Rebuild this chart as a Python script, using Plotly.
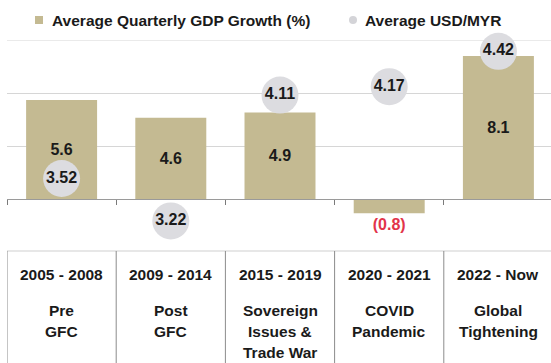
import plotly.graph_objects as go

# ---- data ----
periods = ["2005 - 2008", "2009 - 2014", "2015 - 2019", "2020 - 2021", "2022 - Now"]
descriptions = ["Pre\nGFC", "Post\nGFC", "Sovereign\nIssues &\nTrade War", "COVID\nPandemic", "Global\nTightening"]
gdp_growth = [5.6, 4.6, 4.9, -0.8, 8.1]
usd_myr = [3.52, 3.22, 4.11, 4.17, 4.42]
legend_names = ["Average Quarterly GDP Growth (%)", "Average USD/MYR"]

# ---- styles ----
W, H = 551, 363
ML, MR, MT, MB = 7, 0, 40, 111
PW, PH = W - ML - MR, H - MT - MB
BAR_COLOR = "#c4ba92"
DOT_COLOR = "#dcdce0"
TXT = "#1a1a1a"
RED = "#e2344a"
FONT = "Liberation Sans, Arial, sans-serif"
Y1 = [-3, 9]
Y2 = [3.0, 4.5]
GRID = "#d6d6d6"

def px_x(p):
    return (p - ML) / PW

def px_y(p):
    return (MT + PH - p) / PH

bar_text = [f"({abs(v):.1f})" if v < 0 else f"{v:.1f}" for v in gdp_growth]
bar_pos = ["outside" if v < 0 else "inside" for v in gdp_growth]
bar_tcol = [RED if v < 0 else TXT for v in gdp_growth]

fig = go.Figure()
fig.add_trace(go.Bar(
    x=periods, y=gdp_growth, name=legend_names[0], width=0.65,
    marker=dict(color=BAR_COLOR, line=dict(width=0)),
    text=bar_text, textposition=bar_pos, insidetextanchor="middle",
    textfont=dict(family=FONT, size=16, color=bar_tcol, weight="bold"),
    constraintext="none", cliponaxis=False, showlegend=False, yaxis="y",
))
fig.add_trace(go.Scatter(
    x=periods, y=usd_myr, name=legend_names[1], mode="markers+text",
    marker=dict(size=37, color=DOT_COLOR, line=dict(width=0)),
    text=[f"{v:.2f}" for v in usd_myr], textposition="middle center",
    textfont=dict(family=FONT, size=16, color=TXT, weight="bold"),
    cliponaxis=False, showlegend=False, yaxis="y2",
))

shapes = []
annotations = []

# top gridline (at the upper edge of the value range)
shapes.append(dict(type="line", xref="paper", yref="y", x0=0, x1=1, y0=Y1[1], y1=Y1[1],
                   line=dict(color=GRID, width=1), layer="below"))

# table
n = len(periods)
bounds = [i - 0.5 for i in range(n + 1)]
shapes.append(dict(type="line", xref="paper", yref="paper", x0=0, x1=1,
                   y0=px_y(251), y1=px_y(251), line=dict(color="#cfcfcf", width=1.2)))
for b in bounds:
    shapes.append(dict(type="line", xref="x", yref="paper", x0=b, x1=b,
                       y0=px_y(251), y1=px_y(H + 5), line=dict(color="#8c8c8c", width=1)))
for per, desc in zip(periods, descriptions):
    annotations.append(dict(x=per, xref="x", y=px_y(274), yref="paper", text=per,
                            showarrow=False, xanchor="center", yanchor="middle",
                            font=dict(family=FONT, size=15.5, color=TXT, weight="bold")))
    for j, line in enumerate(desc.split("\n")):
        annotations.append(dict(x=per, xref="x", y=px_y(310 + 21 * j), yref="paper", text=line,
                                showarrow=False, xanchor="center", yanchor="middle",
                                font=dict(family=FONT, size=15.5, color=TXT, weight="bold")))

# legend (manual)
leg_y = 20
leg_items = [(39, 52, "square", BAR_COLOR), (353, 365, "circle", "#d4d4d8")]
for (sx, tx, kind, col), name in zip(leg_items, legend_names):
    s = 4
    shapes.append(dict(type="rect" if kind == "square" else "circle", xref="paper", yref="paper",
                       x0=px_x(sx - s), x1=px_x(sx + s), y0=px_y(leg_y + s), y1=px_y(leg_y - s),
                       fillcolor=col, line=dict(width=0)))
    annotations.append(dict(x=px_x(tx - 2), xref="paper", y=px_y(leg_y), yref="paper", text=name,
                            showarrow=False, xanchor="left", yanchor="middle",
                            font=dict(family=FONT, size=15.5, color=TXT, weight="bold")))

fig.update_layout(
    width=W, height=H, margin=dict(l=ML, r=MR, t=MT, b=MB, pad=0),
    paper_bgcolor="white", plot_bgcolor="white",
    font=dict(family=FONT, color=TXT),
    showlegend=False, bargap=0.35,
    xaxis=dict(type="category", range=[-0.5, -0.5 + PW / 109.2], anchor="free",
               position=(0 - Y1[0]) / (Y1[1] - Y1[0]),
               showline=True, linecolor="#9a9a9a", linewidth=1,
               ticks="outside", tickson="boundaries", ticklen=5, tickcolor="#7a7a7a",
               showticklabels=False, showgrid=False, zeroline=False),
    yaxis=dict(range=Y1, dtick=3, showgrid=True, gridcolor=GRID, gridwidth=1,
               showticklabels=False, zeroline=False, showline=False, ticks=""),
    yaxis2=dict(range=Y2, overlaying="y", side="right", showgrid=False,
                showticklabels=False, zeroline=False, showline=False, ticks=""),
    shapes=shapes, annotations=annotations,
)

fig.write_html("out.html")
